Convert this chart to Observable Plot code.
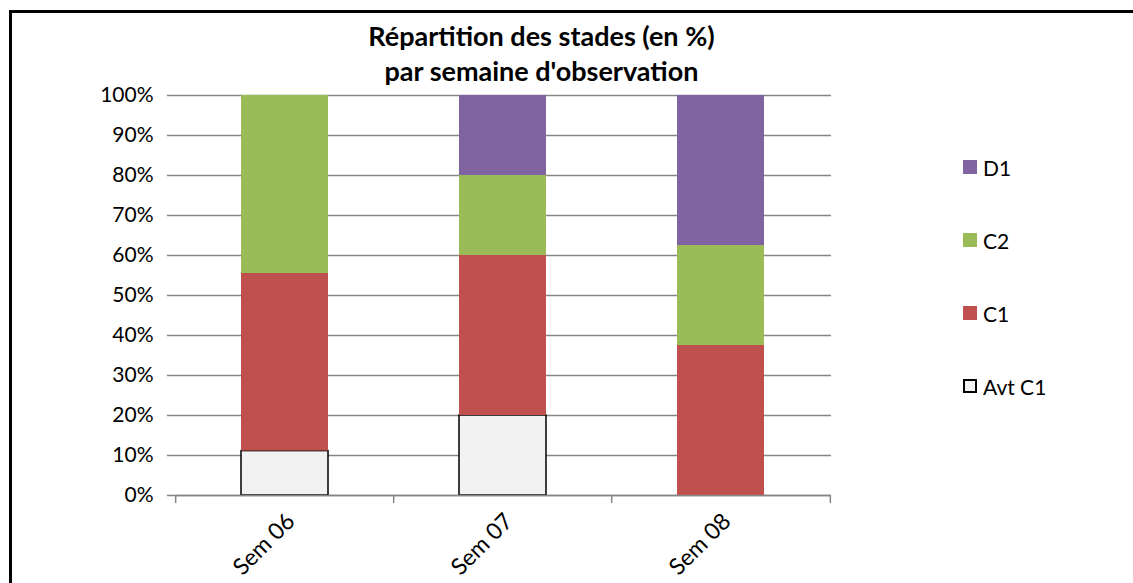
<!DOCTYPE html>
<html>
<head>
<meta charset="utf-8">
<script src="https://cdn.jsdelivr.net/npm/d3@7"></script>
<script src="https://cdn.jsdelivr.net/npm/@observablehq/plot@0.6"></script>
<style>
  html, body { margin: 0; padding: 0; background: #fff; overflow: hidden; }
  #wrap { position: relative; width: 1133px; height: 583px; font-family: Lato, "Open Sans", sans-serif; }
  #frame { position: absolute; left: 9px; top: 10px; width: 1200px; height: 700px; border: 3px solid #000; box-sizing: border-box; }
  #chart { position: absolute; left: 0; top: 0; }
  #title { position: absolute; left: 0; width: 1083px; top: 18px; text-align: center; font-weight: bold; font-size: 27px; line-height: 35px; color: #000; }
  .leg { position: absolute; left: 963px; font-size: 21px; color: #000; display: flex; align-items: center; }
  .sw { width: 14px; height: 14px; margin-right: 6px; box-sizing: border-box; }
  .xlab text { font-size: 23px; }
</style>
</head>
<body>
<div id="wrap">
  <div id="frame"></div>
  <div id="chart"></div>
  <div id="title">Répartition des stades (en %)<br>par semaine d'observation</div>
  <div id="legend"></div>
</div>
<script>
const weeks = ["Sem 06", "Sem 07", "Sem 08"];
const stages = ["Avt C1", "C1", "C2", "D1"];
const avtC1 = [11.1, 20, 0];
const c1 = [44.4, 40, 37.5];
const c2 = [44.5, 20, 25];
const d1 = [0, 20, 37.5];
const stageColors = ["#f2f2f2", "#c0504d", "#9bbb59", "#8064a2"];
const yTicks = [0, 10, 20, 30, 40, 50, 60, 70, 80, 90, 100];

const series = [avtC1, c1, c2, d1];
const data = [];
stages.forEach((s, i) => weeks.forEach((w, j) => data.push({week: w, stage: s, value: series[i][j]})));
const nonZero = data.filter(d => d.value > 0);

const W = 1133, H = 583;
const mL = 175, mR = 302, mT = 95, mB = 88;
const step = (W - mL - mR) / weeks.length;

const chart = Plot.plot({
  width: W, height: H,
  marginLeft: mL, marginRight: mR, marginTop: mT, marginBottom: mB,
  style: {fontFamily: "Lato, 'Open Sans', sans-serif", fontSize: "21px", background: "transparent", color: "#000"},
  x: {domain: weeks, paddingInner: 0.6, paddingOuter: 0.3, label: null},
  y: {domain: [0, 100], label: null},
  color: {domain: stages, range: stageColors},
  marks: [
    Plot.gridY(yTicks, {stroke: "#868686", strokeOpacity: 1, strokeWidth: 1.5}),
    Plot.axisY(yTicks, {tickSize: 8, stroke: "#868686", strokeWidth: 1.5, fill: "#000", tickPadding: 14, tickFormat: d => d + "%", fontSize: 21}),
    Plot.ruleX([0], {frameAnchor: "left", stroke: "#868686", strokeWidth: 1.5, x: null}),
    Plot.barY(nonZero, Plot.stackY({x: "week", y: "value", fill: "stage", order: stages,
      stroke: d => d.stage === "Avt C1" ? "#000" : "none", strokeWidth: 1.5})),
    Plot.ruleY([0], {stroke: "#868686", strokeWidth: 1.5}),
    Plot.ruleX(weeks, {x: d => d, dx: -step / 2, insetTop: H - mT - mB, insetBottom: -8, stroke: "#868686", strokeWidth: 1.5}),
    Plot.ruleX([weeks[weeks.length - 1]], {x: d => d, dx: step / 2, insetTop: H - mT - mB, insetBottom: -8, stroke: "#868686", strokeWidth: 1.5}),
    Plot.axisX({tickSize: 0, tickRotate: -45, tickPadding: 22, fontSize: 23, fill: "#000", dx: 6, className: "xlab"})
  ]
});
document.getElementById("chart").appendChild(chart);

// legend (top to bottom: D1, C2, C1, Avt C1)
const legY = {"D1": 167, "C2": 240, "C1": 313, "Avt C1": 386};
const leg = document.getElementById("legend");
stages.slice().reverse().forEach(s => {
  const i = stages.indexOf(s);
  const el = document.createElement("div");
  el.className = "leg";
  el.style.top = (legY[s] - 12) + "px";
  el.style.height = "24px";
  const sw = document.createElement("div");
  sw.className = "sw";
  sw.style.background = stageColors[i];
  if (s === "Avt C1") sw.style.border = "2px solid #000";
  el.appendChild(sw);
  const t = document.createElement("span");
  t.textContent = s;
  el.appendChild(t);
  leg.appendChild(el);
});
</script>
</body>
</html>
